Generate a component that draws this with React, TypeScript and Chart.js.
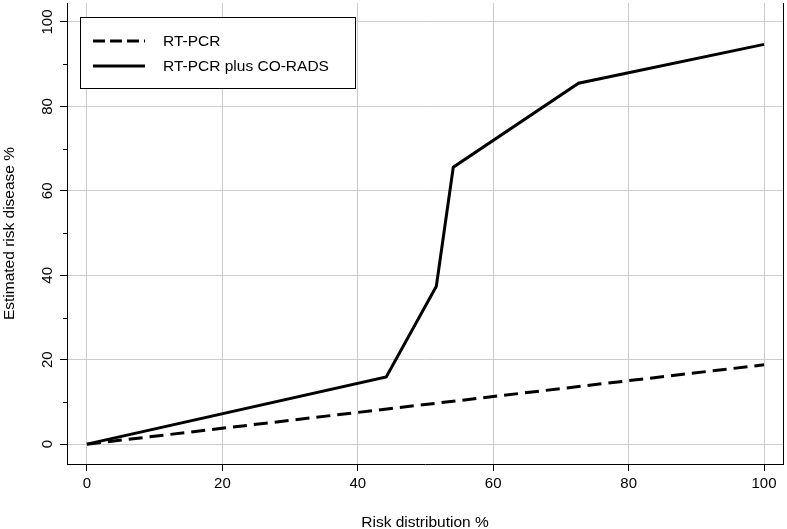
import React, { useEffect, useRef } from 'react';
import { Chart, registerables } from 'chart.js';

Chart.register(...registerables);

// ---- data ----
const rtPcrX = [0, 100];
const rtPcrY = [0, 18.8];
const combinedX = [0, 44.2, 51.6, 54.1, 72.6, 100];
const combinedY = [0, 15.9, 37.4, 65.6, 85.5, 94.7];
const seriesLabels = ['RT-PCR', 'RT-PCR plus CO-RADS'];
const xTicks = [0, 20, 40, 60, 80, 100];
const yMajorTicks = [0, 20, 40, 60, 80, 100];
const yMinorTicks = [10, 30, 50, 70, 90];
const xTitle = 'Risk distribution %';
const yTitle = 'Estimated risk disease %';

const FONT = "'Liberation Sans', Arial, Helvetica, sans-serif";
const GRID = '#cccccc';
const LEGEND_DASHES: number[][] = [[12, 5], []];

const decorPlugin = {
  id: 'decor',
  afterDraw(chart: any) {
    const ctx = chart.ctx;
    const { chartArea } = chart;
    const yScale = chart.scales.y;
    ctx.save();
    // right frame line
    ctx.strokeStyle = '#000';
    ctx.lineWidth = 1;
    ctx.beginPath();
    ctx.moveTo(chartArea.right + 0.5, chartArea.top);
    ctx.lineTo(chartArea.right + 0.5, chartArea.bottom);
    ctx.stroke();
    // minor y ticks
    yMinorTicks.forEach((v) => {
      const py = Math.round(yScale.getPixelForValue(v)) + 0.5;
      ctx.beginPath();
      ctx.moveTo(chartArea.left - 4, py);
      ctx.lineTo(chartArea.left, py);
      ctx.stroke();
    });
    // rotated y tick labels
    ctx.fillStyle = '#000';
    ctx.font = `15px ${FONT}`;
    ctx.textAlign = 'center';
    ctx.textBaseline = 'alphabetic';
    yMajorTicks.forEach((v) => {
      const py = yScale.getPixelForValue(v);
      ctx.save();
      ctx.translate(46.7, py);
      ctx.rotate(-Math.PI / 2);
      ctx.fillText(String(v), 0, 5.4);
      ctx.restore();
    });
    // legend box
    const bx = 80.5, by = 17.5, bw = 275, bh = 71;
    ctx.fillStyle = '#fff';
    ctx.fillRect(bx, by, bw, bh);
    ctx.strokeStyle = '#000';
    ctx.lineWidth = 1;
    ctx.strokeRect(bx, by, bw, bh);
    const rows = [41, 66];
    chart.data.datasets.forEach((ds: any, i: number) => {
      ctx.save();
      ctx.strokeStyle = '#000';
      ctx.lineWidth = 3;
      ctx.setLineDash(LEGEND_DASHES[i]);
      ctx.beginPath();
      ctx.moveTo(93, rows[i]);
      ctx.lineTo(145, rows[i]);
      ctx.stroke();
      ctx.restore();
      ctx.fillStyle = '#000';
      ctx.font = `15.5px ${FONT}`;
      ctx.textAlign = 'left';
      ctx.textBaseline = 'middle';
      ctx.fillText(ds.label, 163, rows[i] + 1);
    });
    ctx.restore();
  },
};

export default function App() {
  const ref = useRef<HTMLCanvasElement | null>(null);
  useEffect(() => {
    document.body.style.margin = '0';
    const canvas = ref.current;
    if (!canvas) return;
    const chart = new Chart(canvas, {
      type: 'line',
      data: {
        datasets: [
          {
            label: seriesLabels[0],
            data: rtPcrX.map((x, i) => ({ x, y: rtPcrY[i] })),
            borderColor: '#000',
            borderWidth: 3,
            borderDash: [14, 7],
            pointRadius: 0,
            tension: 0,
            fill: false,
          },
          {
            label: seriesLabels[1],
            data: combinedX.map((x, i) => ({ x, y: combinedY[i] })),
            borderColor: '#000',
            borderWidth: 3,
            pointRadius: 0,
            tension: 0,
            fill: false,
          },
        ],
      },
      options: {
        responsive: false,
        animation: false,
        devicePixelRatio: 1,
        layout: { padding: { top: 3, right: 4, left: 0, bottom: 0 } },
        plugins: { legend: { display: false }, tooltip: { enabled: false } },
        scales: {
          x: {
            type: 'linear',
            min: -2.95,
            max: 102.8,
            afterBuildTicks: (s: any) => {
              s.ticks = xTicks.map((v) => ({ value: v }));
            },
            afterFit: (s: any) => {
              s.height = 65;
            },
            grid: {
              color: GRID,
              lineWidth: 1,
              tickColor: '#000',
              tickLength: 7,
              tickWidth: 1,
            },
            border: { display: true, color: '#000', width: 1 },
            ticks: {
              color: '#000',
              font: { family: FONT, size: 15 },
              padding: 4,
              maxRotation: 0,
              autoSkip: false,
            },
            title: {
              display: true,
              text: xTitle,
              color: '#000',
              font: { family: FONT, size: 15.5 },
              padding: { top: 0, bottom: -3 },
            },
          },
          y: {
            type: 'linear',
            min: -4.7,
            max: 104.5,
            afterBuildTicks: (s: any) => {
              s.ticks = yMajorTicks.map((v) => ({ value: v }));
            },
            afterFit: (s: any) => {
              s.width = 67;
            },
            grid: {
              color: GRID,
              lineWidth: 1,
              tickColor: '#000',
              tickLength: 7,
              tickWidth: 1,
            },
            border: { display: true, color: '#000', width: 1 },
            ticks: { display: false },
            title: {
              display: true,
              text: yTitle,
              color: '#000',
              font: { family: FONT, size: 15.5 },
              padding: { top: 0, bottom: 0 },
            },
          },
        },
      },
      plugins: [decorPlugin],
    } as any);
    return () => chart.destroy();
  }, []);
  return (
    <div style={{ width: 787, height: 529 }}>
      <canvas ref={ref} width={787} height={529} />
    </div>
  );
}
